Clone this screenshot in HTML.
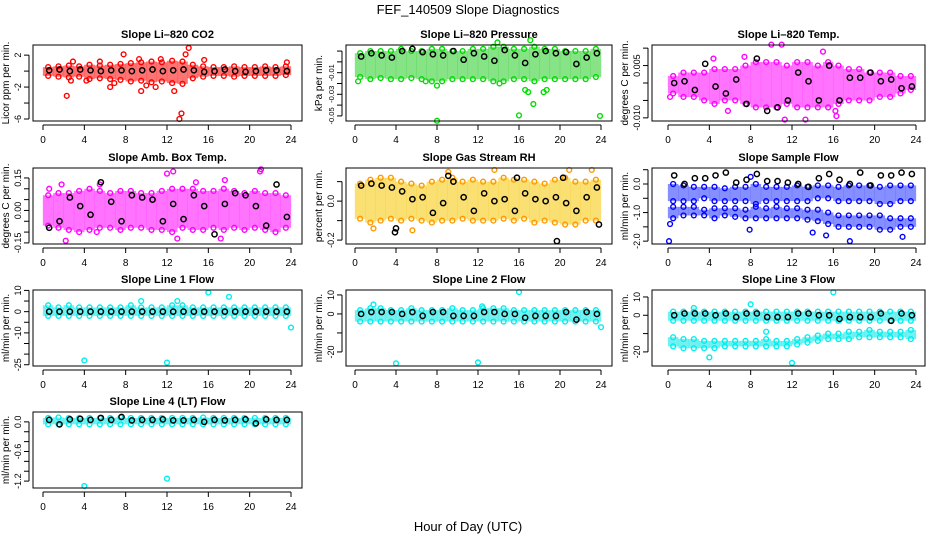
<!DOCTYPE html>
<html><head><meta charset="utf-8"><style>
html,body{margin:0;padding:0;background:#fff;}
svg{display:block;font-family:"Liberation Sans",sans-serif;}
</style></head><body>
<svg id="chart" width="936" height="540" viewBox="0 0 936 540" xmlns="http://www.w3.org/2000/svg">
<text x="468" y="14" font-size="13" text-anchor="middle">FEF_140509  Slope Diagnostics</text>
<text x="468" y="531" font-size="13" text-anchor="middle">Hour of Day (UTC)</text>
</svg>
<script>
const hours = [0.5,1.5,2.5,3.5,4.5,5.5,6.5,7.5,8.5,9.5,10.5,11.5,12.5,13.5,14.5,15.5,16.5,17.5,18.5,19.5,20.5,21.5,22.5,23.5];
const xTicks = [0,4,8,12,16,20,24];

const co2Hi = [0.5,0.6,0.7,0.6,0.8,0.7,0.8,0.9,1.0,1.1,1.2,1.1,1.3,1.2,0.8,0.6,0.5,0.5,0.6,0.5,0.5,0.6,0.5,0.6];
const co2Lo = [-0.6,-0.7,-0.8,-0.7,-1.0,-0.9,-1.0,-1.1,-1.3,-1.2,-1.4,-1.3,-1.5,-1.6,-0.9,-0.7,-0.6,-0.6,-0.7,-0.6,-0.6,-0.6,-0.6,-0.5];
const co2Black = [0.1,0.2,0.0,0.2,0.1,0.0,0.1,0.1,0.0,0.1,0.2,0.0,0.1,0.2,0.1,-0.1,0.0,0.2,0.0,-0.1,0.0,0.1,0.1,0.0];
const co2OutX = [2.3,2.7,2.9,6.5,6.9,7.8,9.3,9.5,10,10.9,11.4,12.7,13.2,13.4,13.8,14.1,15.6,23.6,4.2,5.5];
const co2OutY = [-3.1,-1.2,1.2,-2,-1.5,2.1,1.5,-2.5,-1.8,-2,1.5,-2.5,-6,-5.3,2.1,2.9,1.4,1.1,-1.2,1.2];

const presHi = [0.008,0.01,0.01,0.01,0.012,0.01,0.01,0.012,0.012,0.01,0.01,0.012,0.012,0.014,0.014,0.012,0.012,0.014,0.012,0.012,0.01,0.01,0.01,0.012];
const presLo = [-0.014,-0.016,-0.015,-0.016,-0.016,-0.015,-0.016,-0.018,-0.018,-0.016,-0.016,-0.016,-0.016,-0.018,-0.018,-0.016,-0.016,-0.018,-0.016,-0.016,-0.016,-0.016,-0.016,-0.014];
const presBlack = [0.005,0.008,0.006,0.004,0.01,0.012,0.009,0.007,0.006,0.01,0.002,0.008,0.005,0.001,0.011,0.006,-0.001,0.007,0.01,0.008,0.009,-0.002,0.004,0.008];
const presOutX = [0.3,8,8,16,16.6,16.9,17.4,17.1,18.4,18.7,23.9,13.9,14.1,6.9];
const presOutY = [-0.018,-0.022,-0.0545,-0.0495,-0.026,-0.028,-0.039,0.02,-0.028,-0.026,-0.05,0.018,-0.02,-0.018];

const tempHi = [0.002,0.003,0.003,0.003,0.004,0.004,0.004,0.005,0.006,0.006,0.006,0.005,0.006,0.006,0.005,0.006,0.005,0.004,0.004,0.003,0.003,0.003,0.002,0.002];
const tempLo = [-0.003,-0.004,-0.004,-0.005,-0.006,-0.005,-0.005,-0.006,-0.007,-0.007,-0.007,-0.006,-0.007,-0.007,-0.007,-0.007,-0.006,-0.005,-0.005,-0.005,-0.004,-0.004,-0.003,-0.002];
const tempBlack = [0.0,0.0005,-0.002,0.0055,-0.001,-0.003,0.001,-0.006,0.007,-0.008,-0.007,-0.005,0.003,0.0005,-0.005,0.005,-0.005,0.0015,0.0015,0.003,0.0005,0.001,-0.0015,-0.001];
const tempOutX = [10,11,11.3,13.3,16.3,15,5.8,16.2,0.2,4.4,7.4];
const tempOutY = [0.011,0.011,-0.0105,-0.0105,-0.0095,0.009,-0.008,-0.008,-0.004,0.007,0.0075];

const ambHi = [0.07,0.08,0.08,0.09,0.1,0.09,0.08,0.09,0.09,0.08,0.08,0.09,0.1,0.1,0.1,0.09,0.09,0.1,0.09,0.08,0.09,0.08,0.08,0.07];
const ambLo = [-0.07,-0.08,-0.09,-0.1,-0.09,-0.08,-0.08,-0.09,-0.08,-0.08,-0.09,-0.09,-0.1,-0.08,-0.09,-0.09,-0.08,-0.09,-0.08,-0.09,-0.08,-0.09,-0.1,-0.08];
const ambBlack = [-0.08,-0.05,0.06,0.02,-0.02,0.13,0.04,-0.05,0.07,0.06,0.05,-0.05,0.03,-0.04,0.07,0.02,-0.11,0.03,0.08,0.07,0.02,-0.07,0.12,-0.03];
const ambOutX = [2.2,13,17.2,12,12.6,21,21.1,0.6,1.8,14.8,17.6,5.2,5.5];
const ambOutY = [-0.14,-0.13,-0.13,0.17,0.18,0.18,0.19,0.1,0.12,0.13,0.14,-0.1,0.12];

const rhHi = [0.09,0.11,0.12,0.12,0.1,0.09,0.08,0.1,0.11,0.12,0.1,0.11,0.1,0.1,0.12,0.11,0.11,0.1,0.09,0.11,0.12,0.1,0.1,0.11];
const rhLo = [-0.09,-0.11,-0.1,-0.09,-0.1,-0.09,-0.1,-0.11,-0.1,-0.1,-0.09,-0.1,-0.1,-0.1,-0.09,-0.1,-0.09,-0.11,-0.1,-0.11,-0.12,-0.12,-0.1,-0.1];
const rhBlack = [0.08,0.09,0.08,0.07,0.05,0.01,0.02,-0.06,-0.01,0.1,0.02,-0.05,0.04,0.0,0.01,-0.05,0.04,0.01,0.0,0.02,-0.01,-0.05,0.02,0.07];
const rhOutX = [1.8,5.6,13.6,9.1,23.1,20.9];
const rhOutY = [-0.14,-0.15,0.16,0.15,0.16,0.16];
const rhBOutX = [4,3.9,19.7,23.8,15.8,20.3,9.1];
const rhBOutY = [-0.14,-0.16,-0.205,-0.12,0.12,0.12,0.13];

const sfHiA = [0.0,-0.05,-0.1,-0.1,-0.1,-0.15,-0.1,-0.1,0.0,-0.1,-0.1,-0.1,-0.05,-0.1,-0.05,-0.05,-0.1,-0.05,-0.05,-0.05,-0.1,-0.05,-0.05,-0.05];
const sfLoA = [-0.6,-0.6,-0.6,-0.5,-0.6,-0.6,-0.6,-0.6,-0.7,-0.6,-0.6,-0.6,-0.6,-0.6,-0.5,-0.5,-0.6,-0.6,-0.6,-0.6,-0.7,-0.7,-0.6,-0.6];
const sfHiB = [-0.8,-0.8,-0.8,-0.9,-0.85,-0.85,-0.85,-0.9,-0.8,-0.85,-0.8,-0.85,-0.85,-0.9,-0.9,-1.0,-1.1,-1.1,-1.1,-1.1,-1.1,-1.2,-1.2,-1.2];
const sfLoB = [-1.2,-1.1,-1.1,-1.1,-1.2,-1.1,-1.15,-1.2,-1.2,-1.2,-1.2,-1.2,-1.2,-1.25,-1.3,-1.4,-1.5,-1.5,-1.5,-1.5,-1.6,-1.6,-1.5,-1.5];
const sfBlack = [0.3,0.0,0.2,0.2,0.3,0.4,0.05,0.15,0.35,0.1,0.1,0.05,0.0,-0.1,0.2,0.35,0.15,0.0,0.4,-0.05,0.3,0.3,0.4,0.35];
const sfOutX = [0.1,0.2,7.9,14,15.3,17.6,22.7,8];
const sfOutY = [-2.0,-1.4,-1.6,-1.7,-1.8,-2.0,-1.85,0.25];

const l1Hi = [3,2,3,2,2,2,2,2,3,2,2,2,3,3,2,2,2,2,2,2,2,2,2,2];
const l1Lo = [-2,-2,-2,-2,-2,-2,-2,-2,-2,-2,-2,-2,-2,-2,-2,-2,-2,-2,-2,-2,-2,-2,-2,-2];
const l1Black = [0,0,0,0,0,0,0,0,0,0,0,0,0,0,0,0,0,0,0,0,0,0,0,0];
const l1OutX = [4,12,16,18,24,9.5,13];
const l1OutY = [-23,-24,9,7,-7.5,5,5];

const l2Hi = [2,3,3,2,2,3,2,2,2,3,2,2,3,3,3,2,2,2,2,2,2,2,2,2];
const l2Lo = [-4,-4,-4,-4,-4,-4,-4,-4,-4,-4,-4,-4,-4,-4,-4,-4,-4,-4,-4,-4,-4,-4,-4,-4];
const l2Black = [0,1,1,1,0,1,-1,1,1,-1,-1,-1,1,1,0,0,-2,-1,-1,-1,1,-3,1,0];
const l2OutX = [4,12,16,24,1.8,12.4];
const l2OutY = [-26,-25.5,11.5,-7,5,4];

const l3HiA = [2,2,2,2,2,2,2,2,2,2,2,2,2,2,2,2,2,2,2,2,2,2,2,2];
const l3LoA = [-3,-3,-3,-3,-3,-3,-3,-3,-3,-3,-3,-3,-3,-3,-3,-3,-3,-3,-3,-3,-3,-3,-3,-3];
const l3HiB = [-12,-13,-13,-14,-14,-14,-14,-14,-14,-13,-14,-14,-13,-12,-11,-10,-10,-9,-9,-8,-9,-9,-9,-8];
const l3LoB = [-17,-18,-18,-18,-18,-17,-17,-17,-17,-17,-17,-17,-16,-15,-14,-13,-13,-13,-12,-12,-12,-12,-12,-13];
const l3Black = [0,1,1,1,0,1,-1,1,1,-1,-1,-1,1,1,0,0,-2,-1,-1,-1,1,-3,1,0];
const l3OutX = [4,12,16,8,9.5,2.5];
const l3OutY = [-23,-26,12.5,6,-9,4];

const l4Hi = [0.08,0.09,0.08,0.08,0.08,0.08,0.08,0.09,0.08,0.08,0.08,0.08,0.08,0.08,0.08,0.09,0.08,0.08,0.08,0.08,0.08,0.08,0.08,0.08];
const l4Lo = [-0.05,-0.05,-0.05,-0.05,-0.05,-0.05,-0.05,-0.05,-0.05,-0.05,-0.05,-0.05,-0.05,-0.05,-0.05,-0.05,-0.05,-0.05,-0.05,-0.05,-0.05,-0.05,-0.05,-0.05];
const l4Black = [0.04,-0.05,0.05,0.06,0.04,0.08,0.04,0.1,0.03,0.04,0.04,0.05,0.03,0.03,0.04,0.0,0.04,0.03,0.04,0.05,-0.03,0.05,0.04,0.04];
const l4OutX = [4,12];
const l4OutY = [-1.3,-1.15];

const cols = [{l:33,r:302,x0:43,x24:291},{l:346,r:612,x0:355,x24:601},{l:652,r:925,x0:668,x24:916}];
const rowTops = [45,168,290,412];

const panels = [
 {name:'co2',title:'Slope Li\u2013820 CO2',col:0,row:0,top:3.27,bot:-6.25,ticks:[2,0,-2,-4,-6],labels:['2','','-2','','-6'],ylab:'Licor ppm per min.',color:'#ff0000',fill:'#ff0000',bands:[[co2Hi,co2Lo]],black:co2Black,ox:co2OutX,oy:co2OutY},
 {name:'pressure',title:'Slope Li\u2013820 Pressure',col:1,row:0,top:0.0156,bot:-0.0547,ticks:[0.01,0,-0.01,-0.02,-0.03,-0.04,-0.05],labels:['','','-0.01','','-0.03','','-0.05'],lfs:7.5,ylab:'kPa per min.',color:'#00dd00',fill:'#22cc22',bands:[[presHi,presLo]],black:presBlack,ox:presOutX,oy:presOutY},
 {name:'li820-temp',title:'Slope Li\u2013820 Temp.',col:2,row:0,top:0.0109,bot:-0.0109,ticks:[0.01,0.005,0,-0.005,-0.01],labels:['','0.005','','','-0.010'],ylab:'degrees C per min.',color:'#ff00ff',fill:'#ff00ff',bands:[[tempHi,tempLo]],black:tempBlack,ox:tempOutX,oy:tempOutY},
 {name:'amb-box-temp',title:'Slope Amb. Box Temp.',col:0,row:1,top:0.196,bot:-0.155,ticks:[0.15,0.1,0.05,0,-0.05,-0.1,-0.15],labels:['0.15','','','0.00','','','-0.15'],ylab:'degrees C per min.',color:'#ff00ff',fill:'#ff00ff',bands:[[ambHi,ambLo]],black:ambBlack,ox:ambOutX,oy:ambOutY},
 {name:'gas-stream-rh',title:'Slope Gas Stream RH',col:1,row:1,top:0.17,bot:-0.22,ticks:[0.1,0,-0.1,-0.2],labels:['','0.0','','-0.2'],ylab:'percent per min.',color:'#ff9900',fill:'#f5c400',bands:[[rhHi,rhLo]],black:rhBlack,ox:rhOutX,oy:rhOutY,bx:rhBOutX,by:rhBOutY},
 {name:'sample-flow',title:'Slope Sample Flow',col:2,row:1,top:0.56,bot:-2.1,ticks:[0.5,0,-0.5,-1,-1.5,-2],labels:['','0.0','','-1.0','','-2.0'],ylab:'ml/min per min.',color:'#0000ff',fill:'#2233ff',bands:[[sfHiA,sfLoA],[sfHiB,sfLoB]],black:sfBlack,ox:sfOutX,oy:sfOutY},
 {name:'line1-flow',title:'Slope Line 1 Flow',col:0,row:2,top:10.2,bot:-25.6,ticks:[10,5,0,-5,-10,-15,-20,-25],labels:['10','','0','','-10','','','-25'],ylab:'ml/min per min.',color:'#00eeee',fill:'#00e5e5',bands:[[l1Hi,l1Lo]],black:l1Black,ox:l1OutX,oy:l1OutY},
 {name:'line2-flow',title:'Slope Line 2 Flow',col:1,row:2,top:12.6,bot:-27.4,ticks:[10,0,-10,-20],labels:['10','0','','-20'],ylab:'ml/min per min.',color:'#00eeee',fill:'#00e5e5',bands:[[l2Hi,l2Lo]],black:l2Black,ox:l2OutX,oy:l2OutY},
 {name:'line3-flow',title:'Slope Line 3 Flow',col:2,row:2,top:13.8,bot:-27.7,ticks:[10,0,-10,-20],labels:['10','0','','-20'],ylab:'ml/min per min.',color:'#00eeee',fill:'#00e5e5',bands:[[l3HiA,l3LoA],[l3HiB,l3LoB]],black:l3Black,ox:l3OutX,oy:l3OutY},
 {name:'line4-flow',title:'Slope Line 4 (LT) Flow',col:0,row:3,top:0.2,bot:-1.34,ticks:[0,-0.2,-0.4,-0.6,-0.8,-1.0,-1.2],labels:['0.0','','','-0.6','','','-1.2'],ylab:'ml/min per min.',color:'#00eeee',fill:'#00e5e5',bands:[[l4Hi,l4Lo]],black:l4Black,ox:l4OutX,oy:l4OutY}
];

const svg = document.getElementById('chart');
const NS = 'http://www.w3.org/2000/svg';
function mk(tag, attrs, parent){const e=document.createElementNS(NS,tag);for(const k in attrs)e.setAttribute(k,attrs[k]);(parent||svg).appendChild(e);return e;}

panels.forEach(p=>{
  const c = cols[p.col];
  const top = rowTops[p.row], bottom = top+76;
  const x = h => c.x0 + (h/24)*(c.x24-c.x0);
  const y = v => top + (p.top - v)/(p.top - p.bot)*(bottom-top);
  const g = mk('g',{});
  
  
  const t = mk('text',{x:(c.l+c.r)/2,y:top-7,'font-size':11,'font-weight':'bold','text-anchor':'middle'},g);
  t.textContent = p.title;
  
  
  const clip = mk('g',{},g);
  p.bands.forEach((b,bi)=>{
    hours.forEach((h,i)=>{
      const y1=y(b[0][i]), y2=y(b[1][i]);
      const r = mk('rect',{x:x(h)-5.3,y:y1,width:10.6,height:Math.max(1,y2-y1),fill:p.fill,'fill-opacity':0.55},clip);
      
      
      [b[0][i],b[1][i]].forEach(v=>{
        const ci = mk('circle',{cx:x(h),cy:y(v),r:2.4,fill:'none',stroke:p.color,'stroke-width':1.4},clip);
        
        
      });
    });
  });
  p.ox.forEach((h,i)=>{
    const ci = mk('circle',{cx:x(h),cy:y(p.oy[i]),r:2.4,fill:'none',stroke:p.color,'stroke-width':1.4},clip);
    
    
  });
  p.black.forEach((v,i)=>{
    const ci = mk('circle',{cx:x(hours[i]+0.1),cy:y(v),r:2.6,fill:'none',stroke:'#000','stroke-width':1.5},clip);
    
    
  });
  if(p.bx){p.bx.forEach((h,i)=>{
    const ci = mk('circle',{cx:x(h),cy:y(p.by[i]),r:2.6,fill:'none',stroke:'#000','stroke-width':1.5},clip);
    
    
  });}
  const box = mk('rect',{x:c.l,y:top,width:c.r-c.l,height:bottom-top,fill:'none',stroke:'#000','stroke-width':1},g);
  
  
  const xa = mk('g',{},g);
  
  
  mk('line',{x1:x(0),x2:x(24),y1:bottom+4,y2:bottom+4,stroke:'#000'},xa);
  xTicks.forEach(v=>{
    mk('line',{x1:x(v),x2:x(v),y1:bottom+4,y2:bottom+9,stroke:'#000'},xa);
    const tl = mk('text',{x:x(v),y:bottom+22,'font-size':10,'text-anchor':'middle'},xa);
    tl.textContent = v;
  });
  const ya = mk('g',{},g);
  
  
  const tv = p.ticks;
  mk('line',{x1:c.l-4,x2:c.l-4,y1:y(tv[0]),y2:y(tv[tv.length-1]),stroke:'#000'},ya);
  tv.forEach((v,i)=>{
    mk('line',{x1:c.l-9,x2:c.l-4,y1:y(v),y2:y(v),stroke:'#000'},ya);
    if(p.labels[i]){
      const tl = mk('text',{x:c.l-12,y:y(v),'font-size':p.lfs||9,'text-anchor':'middle',transform:`rotate(-90 ${c.l-12} ${y(v)})`},ya);
      tl.textContent = p.labels[i];
    }
  });
  const yl = mk('text',{x:c.l-24,y:(top+bottom)/2,'font-size':10,'text-anchor':'middle',transform:`rotate(-90 ${c.l-24} ${(top+bottom)/2})`},g);
  yl.textContent = p.ylab;
  
  
});
</script>
</body></html>
